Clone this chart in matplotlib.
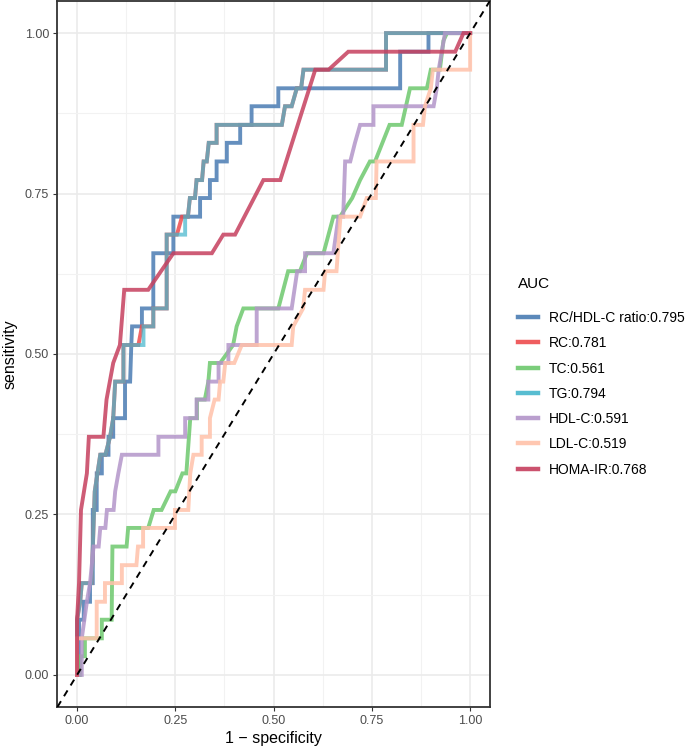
import matplotlib
matplotlib.use("Agg")
import matplotlib.pyplot as plt

plt.rcParams["font.family"] = ["Liberation Sans", "DejaVu Sans"]

# ==============================
# Data
# ==============================

labels = [
    "RC/HDL-C ratio:0.795",
    "RC:0.781",
    "TC:0.561",
    "TG:0.794",
    "HDL-C:0.591",
    "LDL-C:0.519",
    "HOMA-IR:0.768",
]

colors = ["#4A7CB3", "#EE4B4E", "#6DC86D", "#46B6CC", "#B395C9", "#FFC1A9", "#C63F5E"]
alphas = [0.85, 0.85, 0.85, 0.72, 0.85, 0.85, 0.85]

ratio_fpr = [0, 0.005, 0.005, 0.017, 0.017, 0.033, 0.033, 0.04, 0.04, 0.05, 0.05, 0.063, 0.063,
             0.08, 0.08, 0.092, 0.092, 0.122, 0.122, 0.135, 0.138, 0.14, 0.165, 0.165, 0.194,
             0.194, 0.245, 0.245, 0.313, 0.313, 0.338, 0.338, 0.355, 0.355, 0.381, 0.381, 0.415,
             0.415, 0.444, 0.444, 0.512, 0.512, 0.822, 0.822, 0.894, 0.894, 1]
ratio_sens = [0, 0, 0.086, 0.086, 0.114, 0.114, 0.143, 0.143, 0.257, 0.257, 0.314, 0.314, 0.343,
              0.343, 0.371, 0.371, 0.4, 0.4, 0.457, 0.457, 0.514, 0.543, 0.543, 0.571, 0.571,
              0.657, 0.657, 0.714, 0.714, 0.743, 0.743, 0.771, 0.771, 0.8, 0.8, 0.829, 0.829,
              0.857, 0.857, 0.886, 0.886, 0.914, 0.914, 0.971, 0.971, 1, 1]

rc_fpr = [0, 0, 0.008, 0.012, 0.037, 0.045, 0.059, 0.072, 0.084, 0.092, 0.097, 0.118, 0.118,
          0.156, 0.165, 0.194, 0.194, 0.228, 0.228, 0.254, 0.267, 0.282, 0.287, 0.3, 0.304,
          0.318, 0.322, 0.33, 0.335, 0.355, 0.355, 0.521, 0.529, 0.546, 0.559, 0.57, 0.576,
          0.786, 0.786, 1]
rc_sens = [0, 0.086, 0.114, 0.143, 0.143, 0.286, 0.343, 0.343, 0.371, 0.4, 0.457, 0.457, 0.514,
           0.514, 0.543, 0.543, 0.571, 0.571, 0.686, 0.686, 0.714, 0.714, 0.743, 0.743, 0.771,
           0.771, 0.8, 0.8, 0.829, 0.829, 0.857, 0.857, 0.886, 0.886, 0.914, 0.914, 0.943,
           0.943, 1, 1]

tc_fpr = [0, 0.008, 0.008, 0.02, 0.02, 0.063, 0.063, 0.088, 0.09, 0.126, 0.13, 0.181, 0.195,
          0.215, 0.238, 0.25, 0.268, 0.278, 0.288, 0.305, 0.305, 0.325, 0.334, 0.338, 0.364,
          0.397, 0.406, 0.423, 0.512, 0.537, 0.567, 0.585, 0.627, 0.652, 0.669, 0.7, 0.72,
          0.745, 0.758, 0.795, 0.826, 0.847, 0.89, 0.9, 0.923, 0.932, 0.941, 1]
tc_sens = [0, 0, 0.029, 0.029, 0.057, 0.057, 0.086, 0.086, 0.2, 0.2, 0.229, 0.229, 0.257,
           0.257, 0.286, 0.286, 0.314, 0.314, 0.4, 0.4, 0.429, 0.429, 0.457, 0.486, 0.486,
           0.514, 0.543, 0.571, 0.571, 0.629, 0.629, 0.657, 0.657, 0.714, 0.714, 0.743, 0.771,
           0.8, 0.8, 0.857, 0.857, 0.914, 0.914, 0.943, 0.943, 0.988, 1, 1]

tg_fpr = [0, 0, 0.008, 0.012, 0.037, 0.045, 0.059, 0.072, 0.084, 0.092, 0.097, 0.118, 0.118,
          0.169, 0.169, 0.194, 0.194, 0.228, 0.228, 0.275, 0.275, 0.282, 0.287, 0.3, 0.304,
          0.318, 0.322, 0.33, 0.335, 0.355, 0.355, 0.521, 0.529, 0.546, 0.559, 0.57, 0.576,
          0.786, 0.786, 1]
tg_sens = [0, 0.086, 0.114, 0.143, 0.143, 0.286, 0.343, 0.343, 0.371, 0.4, 0.457, 0.457, 0.514,
           0.514, 0.543, 0.543, 0.571, 0.571, 0.686, 0.686, 0.714, 0.714, 0.743, 0.743, 0.771,
           0.771, 0.8, 0.8, 0.829, 0.829, 0.857, 0.857, 0.886, 0.886, 0.914, 0.914, 0.943,
           0.943, 1, 1]

hdl_fpr = [0, 0.012, 0.012, 0.025, 0.033, 0.042, 0.055, 0.059, 0.072, 0.076, 0.093, 0.097,
           0.105, 0.114, 0.207, 0.207, 0.275, 0.275, 0.304, 0.304, 0.334, 0.334, 0.36, 0.36,
           0.385, 0.385, 0.457, 0.457, 0.546, 0.56, 0.58, 0.58, 0.652, 0.665, 0.677, 0.682,
           0.695, 0.707, 0.72, 0.754, 0.754, 0.907, 0.915, 0.92, 0.936, 1]
hdl_sens = [0, 0, 0.057, 0.114, 0.143, 0.2, 0.2, 0.229, 0.229, 0.257, 0.257, 0.286, 0.314,
            0.343, 0.343, 0.371, 0.371, 0.4, 0.4, 0.429, 0.429, 0.457, 0.457, 0.486, 0.486,
            0.514, 0.514, 0.571, 0.571, 0.629, 0.629, 0.657, 0.657, 0.714, 0.714, 0.8, 0.8,
            0.829, 0.857, 0.857, 0.886, 0.886, 0.914, 0.943, 1, 1]

ldl_fpr = [0, 0, 0.05, 0.05, 0.071, 0.071, 0.114, 0.114, 0.151, 0.155, 0.168, 0.168, 0.249,
           0.249, 0.283, 0.288, 0.296, 0.317, 0.317, 0.338, 0.338, 0.35, 0.36, 0.364, 0.372,
           0.377, 0.4, 0.419, 0.546, 0.55, 0.575, 0.58, 0.627, 0.631, 0.66, 0.67, 0.72, 0.737,
           0.76, 0.762, 0.856, 0.856, 0.88, 0.885, 0.9, 0.905, 1, 1]
ldl_sens = [0, 0.057, 0.057, 0.114, 0.114, 0.143, 0.143, 0.171, 0.171, 0.2, 0.2, 0.229, 0.229,
            0.257, 0.257, 0.314, 0.343, 0.343, 0.371, 0.371, 0.4, 0.429, 0.429, 0.457, 0.457,
            0.486, 0.486, 0.514, 0.514, 0.543, 0.571, 0.6, 0.6, 0.629, 0.629, 0.714, 0.714,
            0.743, 0.743, 0.8, 0.8, 0.857, 0.857, 0.886, 0.914, 0.943, 0.943, 1]

homa_fpr = [0, 0, 0.005, 0.01, 0.025, 0.03, 0.067, 0.075, 0.092, 0.109, 0.12, 0.181, 0.245,
            0.343, 0.372, 0.402, 0.474, 0.517, 0.606, 0.64, 0.69, 0.962, 0.983, 1]
homa_sens = [0, 0.086, 0.143, 0.257, 0.314, 0.371, 0.371, 0.429, 0.486, 0.514, 0.6, 0.6, 0.657,
             0.657, 0.686, 0.686, 0.771, 0.771, 0.943, 0.943, 0.971, 0.971, 1, 1]

curves = [
    (ratio_fpr, ratio_sens),
    (rc_fpr, rc_sens),
    (tc_fpr, tc_sens),
    (tg_fpr, tg_sens),
    (hdl_fpr, hdl_sens),
    (ldl_fpr, ldl_sens),
    (homa_fpr, homa_sens),
]

ticks = [0.0, 0.25, 0.5, 0.75, 1.0]
tick_labels = ["0.00", "0.25", "0.50", "0.75", "1.00"]

# ==============================
# Figure
# ==============================

fig = plt.figure(figsize=(6.85, 7.5), dpi=100)
ax = fig.add_axes([57.4 / 685, 43 / 750, 432.4 / 685, 706 / 750])

for (x, y), col, a, lab in zip(curves, colors, alphas, labels):
    ax.plot(x, y, color=col, lw=2.8, alpha=a, label=lab, solid_joinstyle="miter", zorder=3)

ax.plot([-0.05, 1.05], [-0.05, 1.05], color="black", lw=1.4, ls=(0, (3.5, 3)), zorder=4)

ax.set_xlim(-0.05, 1.05)
ax.set_ylim(-0.05, 1.05)

ax.set_xticks(ticks)
ax.set_xticklabels(tick_labels)
ax.set_yticks(ticks)
ax.set_yticklabels(tick_labels)
ax.set_xticks([0.125, 0.375, 0.625, 0.875], minor=True)
ax.set_yticks([0.125, 0.375, 0.625, 0.875], minor=True)

ax.grid(which="major", color="#EBEBEB", lw=1.2, zorder=0)
ax.grid(which="minor", color="#F2F2F2", lw=0.8, zorder=0)
ax.set_axisbelow(True)

ax.tick_params(which="major", length=3, width=0.8, color="#333333", labelcolor="#4D4D4D",
               labelsize=9, pad=3)
ax.tick_params(which="minor", length=0)

for s in ax.spines.values():
    s.set_color("#333333")
    s.set_linewidth(1.3)

ax.set_xlabel("1 \u2212 specificity", fontsize=11.5, labelpad=3)
ax.set_ylabel("sensitivity", fontsize=11.5, labelpad=5)

leg = ax.legend(loc="upper left", bbox_to_anchor=(511 / 685, 1 - 270 / 750),
                bbox_transform=fig.transFigure, frameon=False, title="AUC",
                fontsize=10, title_fontsize=11, handlelength=1.45, handletextpad=0.8,
                labelspacing=0.81, borderpad=0, alignment="left")
leg._legend_box.sep = 14.5
for h in leg.get_lines():
    h.set_linewidth(3.2)
    h.set_alpha(0.9)

fig.savefig("out.png", dpi=100)
